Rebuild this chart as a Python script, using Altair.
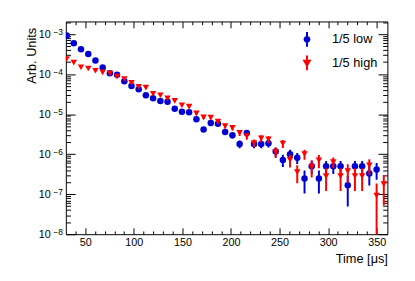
import altair as alt
import numpy as np
import pandas as pd

# ---------------- data ----------------
time_us = [30.8, 38.2, 45.6, 53.1, 60.5, 67.9, 75.3, 82.7, 90.2, 97.6,
           105.0, 112.4, 119.8, 127.3, 134.7, 142.1, 149.5, 156.9, 164.4, 171.8,
           179.2, 186.6, 194.0, 201.5, 208.9, 216.3, 223.7, 231.1, 238.6, 246.0,
           253.4, 260.8, 268.2, 275.7, 283.1, 290.5, 297.9, 305.3, 312.8, 320.2,
           327.6, 335.0, 342.4, 349.9, 357.3]

low_vals = [9.3e-4, 5.9e-4, 4.2e-4, 3.2e-4, 2.2e-4, 1.47e-4, 1.06e-4, 9.7e-5, 6.7e-5, 5.1e-5,
            4.2e-5, 2.97e-5, 2.52e-5, 2.13e-5, 2.04e-5, 1.37e-5, 1.15e-5, 1.12e-5, 7.5e-6, 4.15e-6,
            6.0e-6, 5.8e-6, 3.6e-6, 2.96e-6, 1.8e-6, 3.4e-6, 1.79e-6, 1.8e-6, 1.87e-6, 1.16e-6,
            7.2e-7, 1.0e-6, 8.2e-7, 2.47e-7, 5.0e-7, 2.47e-7, 5.0e-7, 5.0e-7, 5.0e-7, 1.68e-7,
            5.0e-7, 5.0e-7, 3.3e-7, 4.15e-7]
low_rel_err = [0.01, 0.012, 0.014, 0.016, 0.02, 0.024, 0.028, 0.029, 0.035, 0.04,
               0.044, 0.053, 0.057, 0.062, 0.064, 0.078, 0.085, 0.086, 0.105, 0.14,
               0.118, 0.12, 0.152, 0.167, 0.215, 0.156, 0.215, 0.215, 0.21, 0.267,
               0.34, 0.29, 0.31, 0.577, 0.36, 0.577, 0.36, 0.36, 0.36, 0.707,
               0.36, 0.36, 0.5, 0.447]

high_vals = [2.4e-4, 1.95e-4, 1.49e-4, 1.39e-4, 1.22e-4, 1.11e-4, 1.05e-4, 8.7e-5, 7.6e-5, 6.05e-5,
             4.83e-5, 4.62e-5, 3.25e-5, 2.97e-5, 2.48e-5, 2.15e-5, 1.67e-5, 1.55e-5, 1.05e-5, 8.3e-6,
             8.2e-6, 6.5e-6, 5.05e-6, 4.56e-6, 3.4e-6, 2.82e-6, 1.9e-6, 2.48e-6, 2.34e-6, 1.13e-6,
             1.85e-6, 7.2e-7, 3.6e-7, 1.01e-6, 4.83e-7, 7.0e-7, 2.84e-7, 6.33e-7, 2.84e-7, 3.77e-7,
             2.84e-7, 2.84e-7, 5.28e-7, 9.2e-8, 1.78e-7]
high_rel_err = [0.02, 0.022, 0.025, 0.026, 0.028, 0.029, 0.03, 0.033, 0.035, 0.039,
                0.044, 0.045, 0.053, 0.056, 0.061, 0.065, 0.074, 0.077, 0.094, 0.105,
                0.106, 0.119, 0.135, 0.142, 0.164, 0.18, 0.22, 0.193, 0.198, 0.285,
                0.223, 0.358, 0.48, 0.28, 0.46, 0.36, 0.577, 0.3, 0.577, 0.49,
                0.577, 0.577, 0.42, 1.0, 0.707]

series_names = ["1/5 low", "1/5 high"]
x_major = [50, 100, 150, 200, 250, 300, 350]
x_minor = [v for v in range(40, 360, 10) if v % 50 != 0]
y_decades = [1e-8, 1e-7, 1e-6, 1e-5, 1e-4, 1e-3]
y_minor = [m * d for d in y_decades for m in range(2, 10) if m * d < 2.08e-3]

# ---------------- style ----------------
BLUE = "#0000d2"
RED = "#ff0000"
FONT = "Liberation Sans"
W, H = 328, 217


def frame(vals, rel, name):
    v = np.array(vals)
    r = np.array(rel)
    return pd.DataFrame({
        "t": time_us[:len(vals)],
        "v": v,
        "lo": np.maximum(v * (1 - r), 1e-9),
        "hi": v * (1 + r),
        "series": name,
    })


low_df = frame(low_vals, low_rel_err, series_names[0])
high_df = frame(high_vals, high_rel_err, series_names[1])
both_df = pd.concat([low_df, high_df], ignore_index=True)

xs = alt.Scale(type="linear", domain=[30, 361], nice=False, zero=False)
ys = alt.Scale(type="log", domain=[1e-8, 2.08e-3], nice=False)

common = dict(domain=False, ticks=False, gridColor="black", gridOpacity=1, gridWidth=1,
              labelFont=FONT, labelColor="black", labelOverlap=False)

ax_x_main = alt.Axis(orient="bottom", values=x_major, format="d", labelFontSize=11,
                     labelPadding=2.5, grid=True, gridDash=[6.5, H - 13, 6.5, 1000],
                     title="Time [μs]", titleFont=FONT, titleFontSize=13,
                     titleFontWeight="normal", titleColor="black", titleAlign="right",
                     titleX=W, titleY=29, titleBaseline="alphabetic", **common)
ax_x_minor = alt.Axis(orient="bottom", values=x_minor, labels=False, grid=True,
                      gridDash=[3.3, H - 6.6, 3.3, 1000], title=None, **common)
ax_y_main = alt.Axis(orient="left", values=y_decades, labelExpr="'10'", labelFontSize=11,
                     labelPadding=16, grid=True, gridDash=[9.5, W - 19, 9.5, 1000],
                     title="Arb. Units", titleFont=FONT, titleFontSize=13,
                     titleFontWeight="normal", titleColor="black", titleAngle=270,
                     titleAlign="right", titleBaseline="alphabetic", titleX=-31, titleY=6,
                     **common)
ax_y_minor = alt.Axis(orient="left", values=y_minor, labels=False, grid=True,
                      gridDash=[4.8, W - 9.6, 4.8, 1000], title=None, **common)
ax_y_exp = alt.Axis(orient="left", values=y_decades,
                    labelExpr="'\u2212' + format(-log(datum.value) / LN10, '.0f')",
                    labelFontSize=8.5, labelPadding=3.4, labelOffset=-2.5, grid=False,
                    title=None, **common)

blue_err = alt.Chart(low_df).mark_rule(color=BLUE, strokeWidth=2, clip=True).encode(
    x=alt.X("t:Q", scale=xs, axis=ax_x_main),
    y=alt.Y("lo:Q", scale=ys, axis=ax_y_main),
    y2="hi:Q",
)
blue_pts = alt.Chart(low_df).mark_point(shape="circle", filled=True, size=44, color=BLUE,
                                        opacity=1, clip=True).encode(
    x=alt.X("t:Q", scale=xs, axis=ax_x_minor),
    y=alt.Y("v:Q", scale=ys, axis=ax_y_minor),
)
red_err = alt.Chart(high_df).mark_rule(color=RED, strokeWidth=2, clip=True).encode(
    x=alt.X("t:Q", scale=xs, axis=None),
    y=alt.Y("lo:Q", scale=ys, axis=ax_y_exp),
    y2="hi:Q",
)
red_pts = alt.Chart(high_df).mark_point(shape="triangle-down", filled=True, size=44,
                                        color=RED, opacity=1, clip=True).encode(
    x=alt.X("t:Q", scale=xs, axis=None),
    y=alt.Y("v:Q", scale=ys, axis=None),
)

PATH_C = "M0,-1L0,1M-0.33,0A0.33,0.33,0,1,1,0.33,0A0.33,0.33,0,1,1,-0.33,0Z"
PATH_T = "M0,-1L0,1M-0.38,-0.3L0.38,-0.3L0,0.36Z"
leg = alt.Legend(title=None, orient="none", legendX=237.5, legendY=9.7, padding=0,
                 symbolSize=225, symbolStrokeWidth=2, symbolOpacity=1,
                 labelFont=FONT, labelFontSize=13, labelColor="black", labelOffset=17,
                 rowPadding=1)
legend_layer = alt.Chart(both_df).mark_point(filled=True, opacity=0).encode(
    x=alt.X("t:Q", scale=xs, axis=None),
    y=alt.Y("v:Q", scale=ys, axis=None),
    shape=alt.Shape("series:N", scale=alt.Scale(domain=series_names, range=[PATH_C, PATH_T]),
                    legend=leg),
    fill=alt.Fill("series:N", scale=alt.Scale(domain=series_names, range=[BLUE, RED]),
                  legend=leg),
    stroke=alt.Stroke("series:N", scale=alt.Scale(domain=series_names, range=[BLUE, RED]),
                      legend=leg),
)

chart = alt.layer(blue_err, blue_pts, red_err, red_pts, legend_layer).resolve_axis(
    x="independent", y="independent"
).properties(
    width=W, height=H,
    autosize=alt.AutoSizeParams(type="none"),
    padding={"left": 59, "top": 11, "right": 20, "bottom": 45},
    background="white",
).configure_view(stroke="black", strokeWidth=1)

chart.save("out.html", embed_options={"renderer": "svg", "actions": False})
